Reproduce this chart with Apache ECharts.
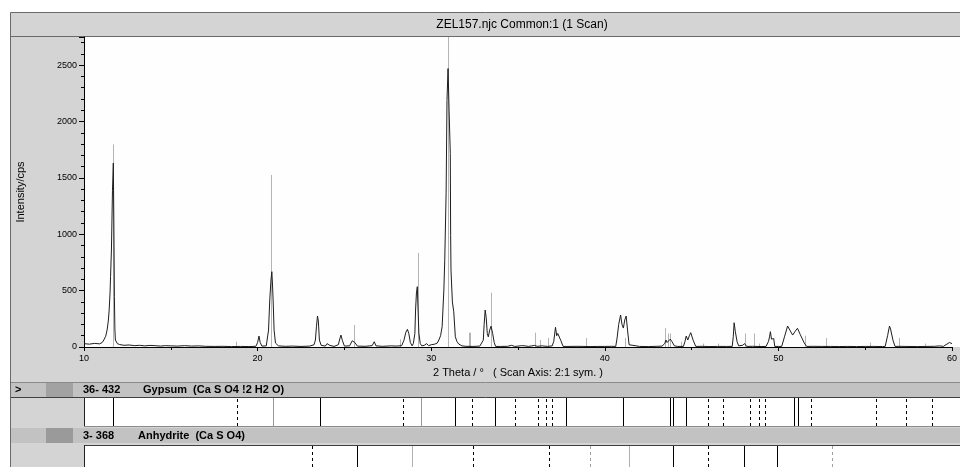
<!DOCTYPE html>
<html><head><meta charset="utf-8">
<script src="https://cdn.jsdelivr.net/npm/echarts@6/dist/echarts.min.js"></script>
<style>html,body{margin:0;padding:0;background:#fff}#c{width:960px;height:467px}</style>
</head><body><div id="c"></div>
<script>
// ---- measured scan (2θ in degrees, intensity in cps) ----
const scanTheta = [10.00,10.30,10.60,10.90,11.05,11.14,11.25,11.33,11.40,11.45,11.50,11.53,11.58,11.64,11.69,11.72,11.75,11.78,11.81,11.86,11.92,12.05,12.30,12.60,12.90,13.20,13.50,13.80,14.10,14.40,14.70,15.00,15.40,15.80,16.20,16.60,17.00,17.50,18.00,18.50,19.00,19.50,19.90,20.00,20.08,20.15,20.25,20.50,20.63,20.70,20.77,20.82,20.86,20.90,20.95,21.03,21.20,21.60,22.00,22.50,23.00,23.25,23.33,23.39,23.45,23.50,23.56,23.66,23.90,24.00,24.07,24.15,24.40,24.65,24.75,24.80,24.88,25.00,25.30,25.45,25.52,25.60,25.75,26.20,26.60,26.72,26.82,27.20,27.70,28.00,28.30,28.43,28.54,28.63,28.71,28.80,28.90,28.97,29.06,29.10,29.15,29.20,29.25,29.29,29.37,29.46,29.60,29.74,29.85,30.00,30.20,30.35,30.44,30.54,30.63,30.73,30.78,30.86,30.91,30.97,31.03,31.10,31.12,31.14,31.22,31.30,31.39,31.48,31.58,31.77,32.00,32.40,32.80,32.91,33.00,33.05,33.11,33.17,33.23,33.29,33.37,33.45,33.54,33.63,33.71,34.00,34.40,34.63,34.80,35.00,35.20,35.40,35.60,35.80,35.95,36.10,36.40,36.70,36.97,37.06,37.16,37.23,37.29,37.37,37.46,37.60,38.00,38.40,38.80,39.20,39.60,40.00,40.40,40.63,40.71,40.80,40.91,40.99,41.07,41.15,41.23,41.31,41.40,41.49,42.00,42.50,43.00,43.30,43.45,43.52,43.59,43.68,43.77,43.86,43.90,44.01,44.20,44.53,44.62,44.69,44.78,44.87,44.95,45.09,45.24,45.60,46.00,46.50,47.00,47.34,47.40,47.45,47.52,47.62,47.71,47.94,48.06,48.17,48.50,49.00,49.29,49.43,49.49,49.54,49.60,49.66,49.73,49.79,50.00,50.19,50.35,50.53,50.66,50.82,50.97,51.10,51.26,51.49,51.63,52.00,52.50,53.00,53.50,54.00,54.50,55.00,55.50,56.00,56.15,56.29,56.40,56.46,56.60,56.72,57.00,57.10,57.30,58.00,58.50,59.00,59.30,59.50,59.85,59.93,60.00];
const scanCounts = [30,25,32,28,40,62,95,150,230,328,480,623,860,1390,1632,1100,450,150,62,45,30,22,15,18,12,15,10,14,12,8,12,10,8,12,8,10,6,5,6,4,5,4,6,40,97,40,8,10,150,417,594,668,550,390,150,35,10,6,8,5,8,20,62,180,275,230,62,15,8,30,44,15,5,20,80,106,60,8,10,55,71,40,8,6,12,47,10,6,10,8,12,60,130,157,120,40,10,30,120,328,480,535,300,124,30,10,15,30,12,20,25,35,62,100,180,505,770,1374,2186,2470,2100,1717,990,681,400,312,91,50,27,10,6,5,8,10,60,200,328,260,120,90,150,185,120,40,5,5,6,15,5,8,12,10,5,10,14,6,10,5,10,50,175,100,120,115,60,5,5,6,5,4,5,5,6,5,80,200,284,200,168,240,275,150,20,5,5,4,6,8,30,62,40,55,70,50,62,10,5,5,50,97,62,100,127,60,5,6,4,5,5,5,90,215,136,47,10,15,30,5,6,4,5,50,90,136,70,60,75,5,5,5,90,186,150,106,140,166,110,35,5,6,5,5,4,5,4,5,5,4,5,100,186,160,60,5,6,10,5,4,5,6,10,5,40,47,30];

// ---- reference pattern sticks drawn inside the scan plot ----
const stickTheta  = [11.67,18.73,20.80,25.54,28.21,29.24,30.98,32.15,32.25,33.45,36.00,36.29,36.73,38.91,41.14,43.45,43.62,43.73,44.40,45.67,46.50,48.06,48.59,48.91,51.54,52.73,55.26,56.95,58.44];
const stickCounts = [1797,47,1526,195,68,835,2800,127,127,482,127,62,80,80,80,168,120,120,47,30,30,120,120,30,100,80,40,80,30];

// ---- phase line positions (2θ) ----
const gypsumSolid       = [11.66,23.49,31.20,33.47,37.54,40.80,43.49,43.66,44.40,50.57,50.80];
const gypsumSolidLight  = [20.80,29.26];
const gypsumDashed      = [18.74,28.23,32.17,34.63,35.94,36.40,36.74,45.66,46.51,48.06,48.57,48.91,51.54,55.26,56.97,58.46];
const anhydriteSolid      = [25.60,43.66,47.71,49.60];
const anhydriteSolidLight = [28.74,41.14];
const anhydriteDashed     = [23.03,32.23,36.57,45.66];
const anhydriteDashedLight= [38.91,52.74];

// ---- axes ----
const xTickLabels = [10,20,30,40,50,60];
const yTickLabels = [0,500,1000,1500,2000,2500];

const titleText = 'ZEL157.njc Common:1 (1 Scan)';
const xName = '2 Theta / \u00b0   ( Scan Axis: 2:1 sym. )';
const yName = 'Intensity/cps';
const gypsumId = '36- 432', gypsumName = 'Gypsum  (Ca S O4 !2 H2 O)';
const anhydriteId = '3- 368', anhydriteName = 'Anhydrite  (Ca S O4)';

const FONT = '"Liberation Sans", Arial, sans-serif';
const chart = echarts.init(document.getElementById('c'), null, {renderer: 'canvas'});

function stickRender(color, dash) {
  return function (params, api) {
    const x = api.value(0), v = api.value(1);
    const p0 = api.coord([x, 0]), p1 = api.coord([x, v]);
    const cx = Math.round(p0[0]) + 0.5;
    return {type: 'line', silent: true,
      shape: {x1: cx, y1: p0[1], x2: cx, y2: p1[1]},
      style: {stroke: color, lineWidth: 1, lineDash: dash || null}};
  };
}
const one = arr => arr.map(t => [t, 1]);

const FRAME = '#d4d4d4', BAR = '#c2c2c2', EDGE = '#6a6a6a';

chart.setOption({
  animation: false,
  backgroundColor: '#ffffff',
  grid: [
    {left: 84, top: 37, width: 875, height: 310, show: false},
    {left: 84, top: 398, width: 875, height: 28, show: false},
    {left: 84, top: 446, width: 875, height: 24, show: false}
  ],
  xAxis: [
    {gridIndex: 0, type: 'value', min: 10, max: 60, interval: 10, position: 'bottom',
     axisLine: {show: true, onZero: false, lineStyle: {color: '#000', width: 1}},
     axisTick: {show: true, length: 4, lineStyle: {color: '#000'}},
     minorTick: {show: true, splitNumber: 2, length: 3, lineStyle: {color: '#000'}},
     splitLine: {show: false},
     axisLabel: {fontSize: 9, margin: 7, color: '#000', fontFamily: FONT,
       formatter: v => xTickLabels.includes(v) ? String(v) : ''},
     name: xName, nameLocation: 'middle', nameGap: 19,
     nameTextStyle: {fontSize: 11, color: '#000', fontFamily: FONT}},
    {gridIndex: 1, type: 'value', min: 10, max: 60, show: false},
    {gridIndex: 2, type: 'value', min: 10, max: 60, show: false}
  ],
  yAxis: [
    {gridIndex: 0, type: 'value', min: 0, max: 2750, interval: 500, position: 'left',
     axisLine: {show: true, onZero: false, lineStyle: {color: '#000', width: 1}},
     axisTick: {show: true, length: 5, lineStyle: {color: '#000'}},
     minorTick: {show: true, splitNumber: 5, length: 3, lineStyle: {color: '#000'}},
     splitLine: {show: false}, showMaxLabel: false,
     axisLabel: {fontSize: 9, margin: 7, color: '#000', fontFamily: FONT,
       formatter: v => yTickLabels.includes(v) ? String(v) : ''},
     name: yName, nameLocation: 'middle', nameGap: 58,
     nameTextStyle: {fontSize: 11, color: '#000', fontFamily: FONT}},
    {gridIndex: 1, type: 'value', min: 0, max: 1, show: false},
    {gridIndex: 2, type: 'value', min: 0, max: 1, show: false}
  ],
  series: [
    {type: 'custom', xAxisIndex: 0, yAxisIndex: 0, clip: true, z: 1,
     data: stickTheta.map((t, i) => [t, stickCounts[i]]),
     renderItem: stickRender('#b4b4b4')},
    {type: 'line', xAxisIndex: 0, yAxisIndex: 0, z: 3, showSymbol: false, symbol: 'none',
     data: scanTheta.map((t, i) => [t, scanCounts[i]]),
     lineStyle: {color: '#1e1e1e', width: 1}},
    {type: 'custom', xAxisIndex: 1, yAxisIndex: 1, data: one(gypsumSolid), renderItem: stickRender('#000')},
    {type: 'custom', xAxisIndex: 1, yAxisIndex: 1, data: one(gypsumSolidLight), renderItem: stickRender('#9a9a9a')},
    {type: 'custom', xAxisIndex: 1, yAxisIndex: 1, data: one(gypsumDashed), renderItem: stickRender('#000', [3, 3])},
    {type: 'custom', xAxisIndex: 2, yAxisIndex: 2, data: one(anhydriteSolid), renderItem: stickRender('#000')},
    {type: 'custom', xAxisIndex: 2, yAxisIndex: 2, data: one(anhydriteSolidLight), renderItem: stickRender('#b0b0b0')},
    {type: 'custom', xAxisIndex: 2, yAxisIndex: 2, data: one(anhydriteDashed), renderItem: stickRender('#000', [3, 3])},
    {type: 'custom', xAxisIndex: 2, yAxisIndex: 2, data: one(anhydriteDashedLight), renderItem: stickRender('#a0a0a0', [3, 3])}
  ],
  graphic: [
    // frame
    {type: 'rect', z: -20, shape: {x: 10.5, y: 12.5, width: 960, height: 470}, style: {fill: FRAME, stroke: EDGE, lineWidth: 1}},
    {type: 'line', z: -19, shape: {x1: 10, y1: 36.5, x2: 960, y2: 36.5}, style: {stroke: EDGE, lineWidth: 1}},
    {type: 'rect', z: -19, shape: {x: 84, y: 37, width: 876, height: 310}, style: {fill: '#fefefe'}},
    {type: 'text', z: 10, x: 522, y: 25, style: {text: titleText, fill: '#000', font: '12px ' + FONT, textAlign: 'center', textVerticalAlign: 'middle'}},
    // gypsum header bar
    {type: 'line', z: -19, shape: {x1: 11, y1: 382.5, x2: 960, y2: 382.5}, style: {stroke: '#8a8a8a', lineWidth: 1}},
    {type: 'rect', z: -19, shape: {x: 11, y: 383, width: 949, height: 14}, style: {fill: BAR}},
    {type: 'rect', z: -18, shape: {x: 46, y: 383, width: 27, height: 14}, style: {fill: '#a2a2a2'}},
    {type: 'line', z: -19, shape: {x1: 11, y1: 397.5, x2: 960, y2: 397.5}, style: {stroke: '#404040', lineWidth: 1}},
    {type: 'rect', z: -19, shape: {x: 85, y: 398, width: 875, height: 28}, style: {fill: '#ffffff'}},
    {type: 'line', z: -18, shape: {x1: 84.5, y1: 398, x2: 84.5, y2: 426}, style: {stroke: '#202020', lineWidth: 1}},
    {type: 'line', z: -18, shape: {x1: 84, y1: 426.5, x2: 960, y2: 426.5}, style: {stroke: '#8a8a8a', lineWidth: 1}},
    {type: 'text', z: 10, x: 15, y: 390, style: {text: '>', fill: '#000', font: 'bold 11px ' + FONT, textVerticalAlign: 'middle'}},
    {type: 'text', z: 10, x: 83, y: 390, style: {text: gypsumId, fill: '#000', font: 'bold 11px ' + FONT, textVerticalAlign: 'middle'}},
    {type: 'text', z: 10, x: 143, y: 390, style: {text: gypsumName, fill: '#000', font: 'bold 11px ' + FONT, textVerticalAlign: 'middle'}},
    // anhydrite header bar
    {type: 'rect', z: -19, shape: {x: 11, y: 428, width: 949, height: 15}, style: {fill: BAR}},
    {type: 'rect', z: -18, shape: {x: 46, y: 428, width: 27, height: 15}, style: {fill: '#9a9a9a'}},
    {type: 'line', z: -19, shape: {x1: 84, y1: 445.5, x2: 960, y2: 445.5}, style: {stroke: '#404040', lineWidth: 1}},
    {type: 'rect', z: -19, shape: {x: 85, y: 446, width: 875, height: 21}, style: {fill: '#ffffff'}},
    {type: 'line', z: -18, shape: {x1: 84.5, y1: 445, x2: 84.5, y2: 467}, style: {stroke: '#202020', lineWidth: 1}},
    {type: 'text', z: 10, x: 83, y: 435.5, style: {text: anhydriteId, fill: '#000', font: 'bold 11px ' + FONT, textVerticalAlign: 'middle'}},
    {type: 'text', z: 10, x: 138, y: 435.5, style: {text: anhydriteName, fill: '#000', font: 'bold 11px ' + FONT, textVerticalAlign: 'middle'}}
  ]
});
</script></body></html>
